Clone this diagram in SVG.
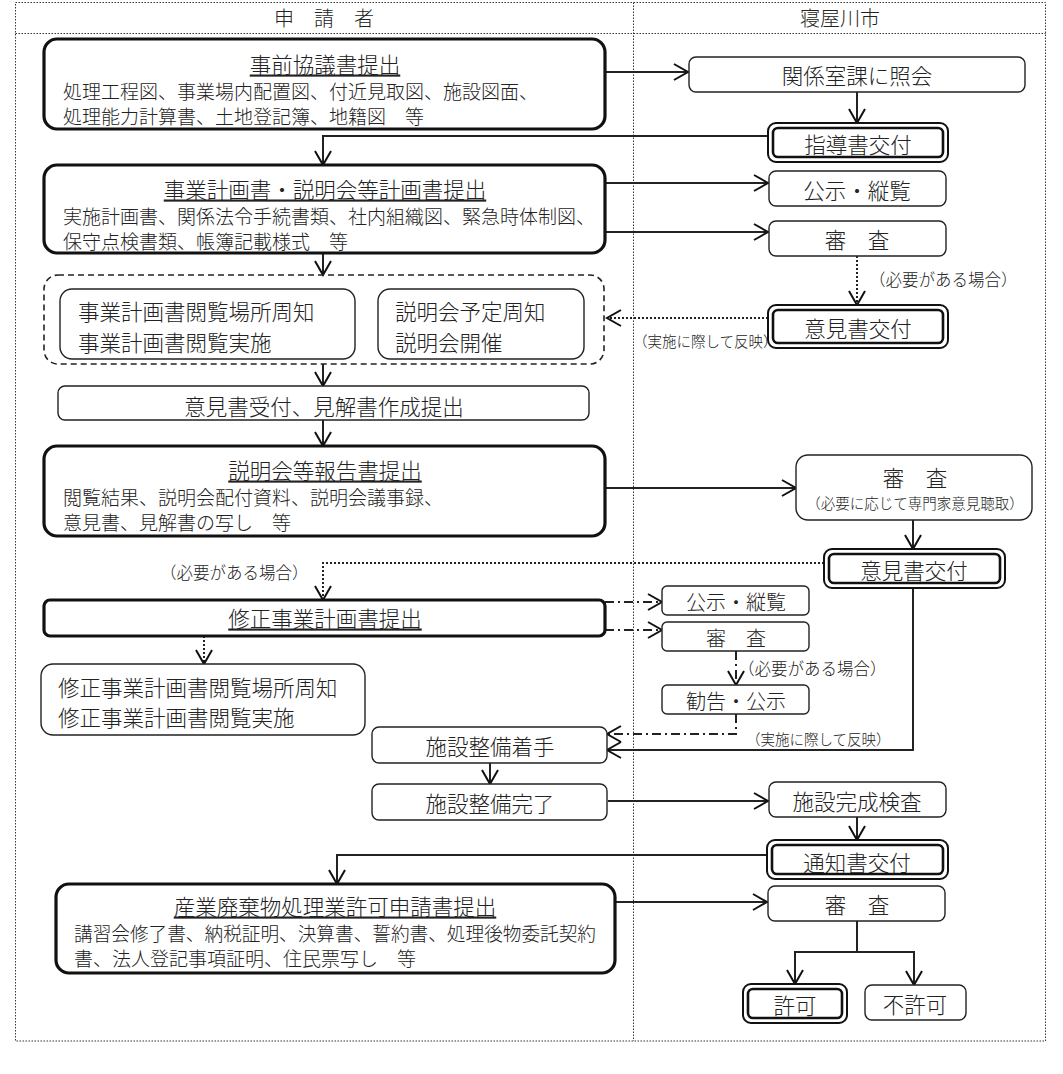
<svg xmlns="http://www.w3.org/2000/svg" width="1063" height="1074" viewBox="0 0 1063 1074">
<style>
text{font-family:"Noto Sans CJK JP","Noto Sans CJK SC",sans-serif;font-weight:300;fill:#222;dominant-baseline:central}
.t{font-size:21.5px;text-anchor:middle}
.h{font-size:20px;text-anchor:middle}
.b{font-size:19px}
.s{font-size:16.5px}
.xs{font-size:14.5px}
.u{text-decoration:underline}
.thick{fill:#fff;stroke:#111;stroke-width:3.2}
.thin{fill:#fff;stroke:#222;stroke-width:1.4}
.dbo{fill:#fff;stroke:#111;stroke-width:2}
.dbi{fill:none;stroke:#111;stroke-width:2.6}
.frame{fill:none;stroke:#333;stroke-width:1;stroke-dasharray:1.5 1.5}
.ln{fill:none;stroke:#222;stroke-width:2}
.arr{marker-end:url(#ah)}
.dot{stroke-dasharray:2 2}
.dd{stroke-dasharray:9 4 2 4}
.dash{fill:none;stroke:#222;stroke-width:1.6;stroke-dasharray:6 4}
</style>
<defs>
<marker id="ah" markerUnits="userSpaceOnUse" markerWidth="20" markerHeight="20" refX="15" refY="9" orient="auto">
<polyline points="1,1 15,9 1,17" fill="none" stroke="#111" stroke-width="2"/>
</marker>
</defs>
<rect width="1063" height="1074" fill="#fff"/>
<g id="frame">
<rect class="frame" x="15.5" y="2.5" width="1030" height="1038.5"/>
<line class="frame" x1="15.5" y1="33.5" x2="1045.5" y2="33.5"/>
<line class="frame" x1="633.5" y1="2.5" x2="633.5" y2="1041"/>
<text class="h" x="324" y="17">申　請　者</text>
<text class="h" x="840" y="17">寝屋川市</text>
</g>
<g id="connectors">
<line class="ln arr" x1="605" y1="72" x2="688" y2="72"/>
<line class="ln arr" x1="857" y1="92" x2="857" y2="123"/>
<polyline class="ln arr" points="768,136 323,136 323,165"/>
<line class="ln arr" x1="605" y1="183" x2="768" y2="183"/>
<line class="ln arr" x1="605" y1="232" x2="768" y2="232"/>
<line class="ln arr dot" x1="857" y1="256" x2="857" y2="305"/>
<line class="ln arr dot" x1="768" y1="318" x2="607" y2="318"/>
<line class="ln arr" x1="323" y1="253" x2="323" y2="275"/>
<line class="ln arr" x1="323" y1="364" x2="323" y2="386"/>
<line class="ln arr" x1="323" y1="420" x2="323" y2="446"/>
<line class="ln arr" x1="605" y1="488" x2="796" y2="488"/>
<line class="ln arr" x1="913" y1="520" x2="913" y2="549"/>
<polyline class="ln arr dot" points="824,563 323,563 323,600"/>
<line class="ln arr dd" x1="605" y1="602" x2="662" y2="602"/>
<line class="ln arr dd" x1="605" y1="630" x2="662" y2="630"/>
<line class="ln arr dd" x1="736" y1="651" x2="736" y2="685"/>
<polyline class="ln arr dd" points="736,714 736,734 607,734"/>
<polyline class="ln arr" points="913,588 913,750 607,750"/>
<line class="ln arr dot" x1="204" y1="636" x2="204" y2="664"/>
<line class="ln arr" x1="490" y1="763" x2="490" y2="784"/>
<line class="ln arr" x1="608" y1="801" x2="768" y2="801"/>
<line class="ln arr" x1="857" y1="817" x2="857" y2="840"/>
<polyline class="ln arr" points="767,855 337,855 337,884"/>
<line class="ln arr" x1="615" y1="902" x2="767" y2="902"/>
<polyline class="ln" points="857,921 857,952"/>
<polyline class="ln arr" points="857,952 795,952 795,984"/>
<polyline class="ln arr" points="857,952 914,952 914,985"/>
<text class="s" x="869" y="279">（必要がある場合）</text>
<text class="xs" x="633" y="340">（実施に際して反映）</text>
<text class="s" x="160" y="572">（必要がある場合）</text>
<text class="s" x="738" y="668">（必要がある場合）</text>
<text class="xs" x="746" y="738">（実施に際して反映）</text>
</g>
<g id="n1">
<rect class="thick" x="44" y="39" width="561" height="90" rx="13"/>
<text class="t u" x="325" y="63">事前協議書提出</text>
<text class="b" x="63" y="90">処理工程図、事業場内配置図、付近見取図、施設図面、</text>
<text class="b" x="63" y="115">処理能力計算書、土地登記簿、地籍図　等</text>
</g>
<g id="n2">
<rect class="thin" x="689" y="57" width="336" height="35" rx="7"/>
<text class="t" x="857" y="74">関係室課に照会</text>
</g>
<g id="n3">
<rect class="dbo" x="768" y="123" width="180" height="39" rx="8"/>
<rect class="dbi" x="773" y="128" width="170" height="29" rx="5"/>
<text class="t" x="858" y="143">指導書交付</text>
</g>
<g id="n4">
<rect class="thick" x="44" y="165" width="561" height="88" rx="13"/>
<text class="t u" x="325" y="188">事業計画書・説明会等計画書提出</text>
<text class="b" x="63" y="215">実施計画書、関係法令手続書類、社内組織図、緊急時体制図、</text>
<text class="b" x="63" y="240">保守点検書類、帳簿記載様式　等</text>
</g>
<g id="n5">
<rect class="thin" x="769" y="171" width="177" height="35" rx="7"/>
<text class="t" x="857" y="189">公示・縦覧</text>
</g>
<g id="n6">
<rect class="thin" x="769" y="221" width="177" height="35" rx="7"/>
<text class="t" x="857" y="238">審　査</text>
</g>
<g id="n7">
<rect class="dbo" x="768" y="305" width="180" height="43" rx="8"/>
<rect class="dbi" x="773" y="310" width="170" height="33" rx="5"/>
<text class="t" x="858" y="327">意見書交付</text>
</g>
<g id="n8">
<rect class="dash" x="44" y="275" width="560" height="89" rx="14"/>
<rect class="thin" x="60" y="289" width="295" height="70" rx="12"/>
<text class="t" x="78" y="310" style="text-anchor:start">事業計画書閲覧場所周知</text>
<text class="t" x="78" y="341" style="text-anchor:start">事業計画書閲覧実施</text>
<rect class="thin" x="378" y="289" width="206" height="70" rx="12"/>
<text class="t" x="395" y="310" style="text-anchor:start">説明会予定周知</text>
<text class="t" x="395" y="341" style="text-anchor:start">説明会開催</text>
</g>
<g id="n9">
<rect class="thin" x="58" y="386" width="531" height="34" rx="7"/>
<text class="t" x="324" y="405">意見書受付、見解書作成提出</text>
</g>
<g id="n10">
<rect class="thick" x="44" y="446" width="561" height="90" rx="13"/>
<text class="t u" x="325" y="469">説明会等報告書提出</text>
<text class="b" x="63" y="496">閲覧結果、説明会配付資料、説明会議事録、</text>
<text class="b" x="63" y="521">意見書、見解書の写し　等</text>
</g>
<g id="n11">
<rect class="thin" x="796" y="455" width="236" height="65" rx="12"/>
<text class="t" x="915" y="476">審　査</text>
<text class="xs" x="915" y="502" style="text-anchor:middle">（必要に応じて専門家意見聴取）</text>
</g>
<g id="n12">
<rect class="dbo" x="824" y="549" width="181" height="39" rx="8"/>
<rect class="dbi" x="829" y="554" width="171" height="29" rx="5"/>
<text class="t" x="914" y="569">意見書交付</text>
</g>
<g id="n13">
<rect class="thick" x="44" y="600" width="561" height="36" rx="6"/>
<text class="t u" x="325" y="617">修正事業計画書提出</text>
</g>
<g id="n14">
<rect class="thin" x="662" y="586" width="147" height="29" rx="5"/>
<text class="h" x="736" y="601">公示・縦覧</text>
</g>
<g id="n15">
<rect class="thin" x="662" y="622" width="147" height="29" rx="5"/>
<text class="h" x="736" y="637">審　査</text>
</g>
<g id="n16">
<rect class="thin" x="662" y="685" width="147" height="29" rx="5"/>
<text class="h" x="736" y="700">勧告・公示</text>
</g>
<g id="n17">
<rect class="thin" x="41" y="664" width="324" height="71" rx="12"/>
<text class="t" x="58" y="686" style="text-anchor:start">修正事業計画書閲覧場所周知</text>
<text class="t" x="58" y="716" style="text-anchor:start">修正事業計画書閲覧実施</text>
</g>
<g id="n18">
<rect class="thin" x="372" y="727" width="235" height="36" rx="7"/>
<text class="t" x="490" y="745">施設整備着手</text>
</g>
<g id="n19">
<rect class="thin" x="372" y="784" width="235" height="36" rx="7"/>
<text class="t" x="490" y="802">施設整備完了</text>
</g>
<g id="n20">
<rect class="thin" x="769" y="782" width="177" height="35" rx="7"/>
<text class="t" x="857" y="800">施設完成検査</text>
</g>
<g id="n21">
<rect class="dbo" x="767" y="840" width="181" height="39" rx="8"/>
<rect class="dbi" x="772" y="845" width="171" height="29" rx="5"/>
<text class="t" x="857" y="861">通知書交付</text>
</g>
<g id="n22">
<rect class="thick" x="56" y="884" width="559" height="89" rx="13"/>
<text class="t u" x="335" y="905">産業廃棄物処理業許可申請書提出</text>
<text class="b" x="74" y="932" textLength="522" lengthAdjust="spacingAndGlyphs">講習会修了書、納税証明、決算書、誓約書、処理後物委託契約</text>
<text class="b" x="74" y="957">書、法人登記事項証明、住民票写し　等</text>
</g>
<g id="n23">
<rect class="thin" x="768" y="886" width="177" height="35" rx="7"/>
<text class="t" x="857" y="903">審　査</text>
</g>
<g id="n24">
<rect class="dbo" x="743" y="984" width="104" height="39" rx="8"/>
<rect class="dbi" x="748" y="989" width="94" height="29" rx="5"/>
<text class="t" x="795" y="1004">許可</text>
</g>
<g id="n25">
<rect class="thin" x="865" y="985" width="101" height="35" rx="7"/>
<text class="t" x="915" y="1003">不許可</text>
</g>
</svg>
